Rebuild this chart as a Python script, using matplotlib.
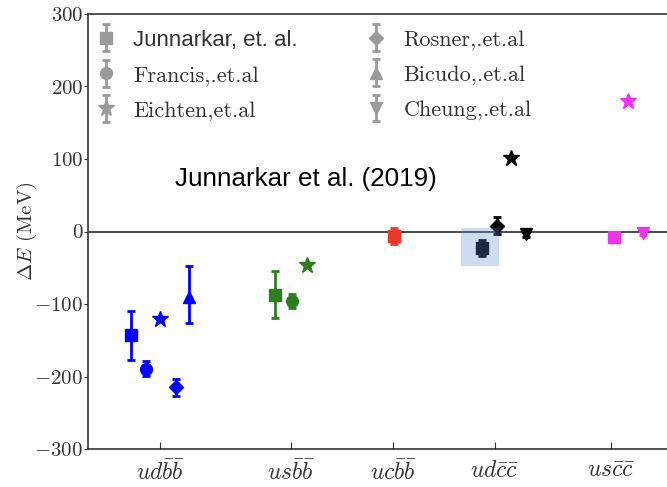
import numpy as np
import matplotlib
matplotlib.use("Agg")
import matplotlib.pyplot as plt
from matplotlib.patches import Rectangle
from matplotlib.container import ErrorbarContainer
from matplotlib.legend_handler import HandlerErrorbar

plt.rcParams["mathtext.fontset"] = "cm"
plt.rcParams["font.family"] = "serif"
plt.rcParams["font.serif"] = ["cmr10"]
plt.rcParams["axes.formatter.use_mathtext"] = True

# tetraquark channels and where their labels sit on the x axis
systems = [r"$ud\bar{b}\bar{b}$", r"$us\bar{b}\bar{b}$", r"$uc\bar{b}\bar{b}$",
           r"$ud\bar{c}\bar{c}$", r"$us\bar{c}\bar{c}$"]
tick_pos = [0.72, 2.03, 3.05, 4.07, 5.23]

# binding energies dE (MeV) per reference
jun_x = [0.43, 1.87, 3.06, 3.94, 5.26]
jun_dE = [-143, -87, -6, -23, -8]
jun_err = [34, 32, 11, 11, 3]
jun_col = ["#0000ff", "#2e7d1f", "#e8392b", "black", "#ee33ee"]

fra_x = [0.58, 2.04]
fra_dE = [-189, -96]
fra_err = [10, 10]
fra_col = ["#0000ff", "#2e7d1f"]

eic_x = [0.72, 2.19, 4.23, 5.40]
eic_dE = [-121, -46, 102, 180]
eic_col = ["#0000ff", "#2e7d1f", "black", "#ee33ee"]

ros_x = [0.88, 4.09]
ros_dE = [-215, 8]
ros_err = [12, 12]
ros_col = ["#0000ff", "black"]

bic_x = [1.01]
bic_dE = [-90]
bic_err_lo = [36]
bic_err_hi = [43]
bic_col = ["#0000ff"]

che_x = [4.38, 5.55]
che_dE = [-4, -2]
che_err = [3, 3]
che_col = ["black", "#ee33ee"]

fig = plt.figure(figsize=(6.67, 4.87), dpi=100)
ax = fig.add_axes([88 / 667, 38 / 487, 602 / 667, 435 / 487])

eb = dict(capsize=3, elinewidth=2, capthick=2, linestyle="none")

for x, y, e, c in zip(jun_x, jun_dE, jun_err, jun_col):
    ax.errorbar(x, y, yerr=e, marker="s", ms=9, color=c, **eb)
for x, y, e, c in zip(fra_x, fra_dE, fra_err, fra_col):
    ax.errorbar(x, y, yerr=e, marker="o", ms=8.5, color=c, **eb)
for x, y, c in zip(eic_x, eic_dE, eic_col):
    ax.errorbar(x, y, yerr=0, marker="*", ms=12, color=c, **eb)
for x, y, e, c in zip(ros_x, ros_dE, ros_err, ros_col):
    ax.errorbar(x, y, yerr=e, marker="D", ms=7.5, color=c, **eb)
for x, y, lo, hi, c in zip(bic_x, bic_dE, bic_err_lo, bic_err_hi, bic_col):
    ax.errorbar(x, y, yerr=[[lo], [hi]], marker="^", ms=9, color=c, **eb)
for x, y, e, c in zip(che_x, che_dE, che_err, che_col):
    ax.errorbar(x, y, yerr=e, marker="v", ms=9, color=c, **eb)

ax.axhline(0, color="#3d3d3d", lw=1.3, zorder=1)

# highlight box on the udcc lattice point
ax.add_patch(Rectangle((3.73, -48), 0.38, 53, facecolor="#5a8cd2",
                       edgecolor="none", alpha=0.3, zorder=5))

ax.text(0.87, 73, "Junnarkar et al. (2019)", family="Liberation Sans",
        fontsize=18.7, va="center", ha="left")

# legend with grey proxies
gray = "#9a9a9a"
hs = []
for m, ms, lab in [("s", 9, "Junnarkar, et. al."), ("o", 8.5, "Francis,.et.al"),
                   ("*", 12, "Eichten,et.al"), ("D", 7.5, "Rosner,.et.al"),
                   ("^", 9, "Bicudo,.et.al"), ("v", 9, "Cheung,.et.al")]:
    hs.append(ax.errorbar([np.nan], [np.nan], yerr=[1], marker=m, ms=ms,
                          color=gray, label=lab, **eb))
leg = ax.legend(handles=hs, ncol=2, loc="upper left",
                bbox_to_anchor=(-0.015, 1.0), frameon=False, fontsize=16,
                handlelength=1.0, handletextpad=0.75, labelspacing=0.68,
                columnspacing=3.0, borderaxespad=0.3,
                handler_map={ErrorbarContainer: HandlerErrorbar(yerr_size=0.6)})
leg.get_texts()[0].set_family("Liberation Sans")
for t in leg.get_texts():
    t.set_color("#333333")

ax.set_xlim(0, 6.02)
ax.set_ylim(-300, 300)
ax.set_yticks([-300, -200, -100, 0, 100, 200, 300])
ax.set_xticks(tick_pos)
ax.set_xticklabels(systems)
ax.set_ylabel(r"$\Delta E$ (MeV)", fontsize=15, color="#333333", labelpad=-3)
ax.tick_params(axis="y", direction="out", length=3, labelsize=15, pad=0.5,
               colors="#333333")
ax.tick_params(axis="x", direction="in", length=5, labelsize=17, pad=8,
               colors="#333333")
for s in ax.spines.values():
    s.set_color("#333333")
    s.set_linewidth(1.2)

fig.savefig("out.png", dpi=100)
